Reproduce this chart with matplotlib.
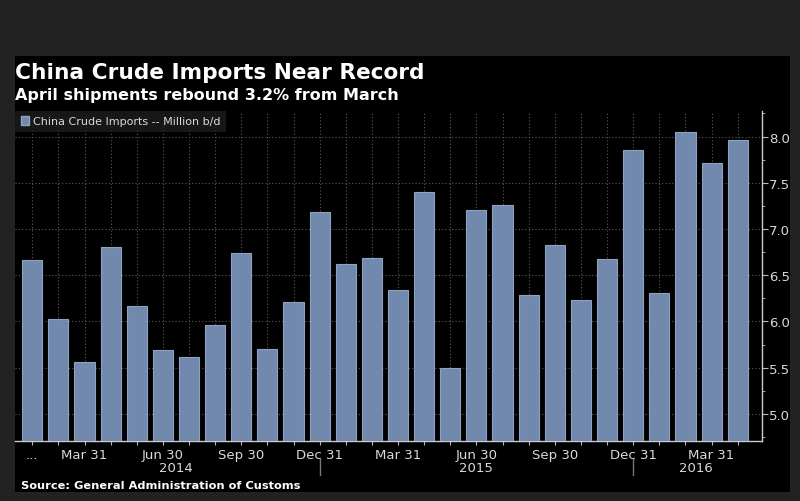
import matplotlib
matplotlib.use("Agg")
import matplotlib.pyplot as plt
import matplotlib.patches as mpatches
import matplotlib.transforms as mtransforms
from matplotlib.lines import Line2D
from matplotlib.ticker import MultipleLocator

# China crude imports, million b/d, Jan 2014 .. Apr 2016
imports = [6.66, 6.03, 5.56, 6.81, 6.17, 5.69, 5.62, 5.96, 6.74, 5.70, 6.21, 7.18,
           6.62, 6.69, 6.34, 7.40, 5.50, 7.21, 7.26, 6.29, 6.83, 6.23, 6.68, 7.85,
           6.31, 8.05, 7.71, 7.96]

# month tick labels (only quarter ends shown)
tick_labels = ["...", "", "Mar 31", "", "", "Jun 30", "", "", "Sep 30", "", "", "Dec 31",
               "", "", "Mar 31", "", "", "Jun 30", "", "", "Sep 30", "", "", "Dec 31",
               "", "", "Mar 31", ""]

years = ["2014", "2015", "2016"]
year_pos = [5.5, 17.0, 25.4]
year_breaks = [11, 23]

bar_color = "#7189ad"
edge_color = "#8ea3c4"
text_color = "#d9d9d9"

W, H = 800, 502
fig = plt.figure(figsize=(W / 100, H / 100), dpi=100, facecolor="#222222")

# black panel behind everything
bg = fig.add_axes([15 / W, 9 / H, 775 / W, 436 / H], zorder=-5)
bg.set_facecolor("black")
bg.set_xticks([])
bg.set_yticks([])
for s in bg.spines.values():
    s.set_visible(False)

ax = fig.add_axes([15 / W, 60.3 / H, 747 / W, 330 / H], zorder=1)
ax.set_facecolor("none")

x = list(range(len(imports)))
ax.bar(x, imports, width=0.77, color=bar_color, edgecolor=edge_color, linewidth=0.8,
       zorder=3)

ax.set_xlim(-0.66, 27.93)
ax.set_ylim(4.71, 8.28)

ax.yaxis.tick_right()
ax.yaxis.set_major_locator(MultipleLocator(0.5))
ax.yaxis.set_minor_locator(MultipleLocator(0.25))
ax.set_xticks(x)
ax.set_xticklabels(tick_labels)

ax.tick_params(axis="both", which="major", colors="#bbbbbb", labelcolor=text_color,
               labelsize=9.5, direction="out")
ax.tick_params(axis="x", length=3, pad=2)
ax.tick_params(axis="y", length=4, pad=1)
ax.tick_params(axis="y", which="minor", length=2.5, colors="#bbbbbb")

for side in ["left", "top"]:
    ax.spines[side].set_visible(False)
for side in ["right", "bottom"]:
    ax.spines[side].set_color("#cccccc")
    ax.spines[side].set_linewidth(1)

ax.grid(True, which="major", linestyle=(0, (1, 2)), color="#5a5a5a", linewidth=0.8)
ax.set_axisbelow(True)

# year labels and separators
trans = mtransforms.blended_transform_factory(ax.transData, ax.transAxes)
for yr, pos in zip(years, year_pos):
    ax.text(pos, -0.08, yr, transform=trans, ha="center", va="center",
            color=text_color, fontsize=9.5)
for b in year_breaks:
    ax.add_line(Line2D([b, b], [-0.055, -0.104], transform=trans, color="#777777",
                       linewidth=1, clip_on=False))

handle = mpatches.Patch(facecolor=bar_color, edgecolor=edge_color)
leg = ax.legend(handles=[handle], labels=["China Crude Imports -- Million b/d"],
                loc="upper left", bbox_to_anchor=(0, 1), borderaxespad=0,
                fontsize=8, frameon=True, fancybox=False, handlelength=0.8,
                handleheight=0.8, handletextpad=0.3, borderpad=0.5)
leg.get_frame().set_facecolor("#1c1c1c")
leg.get_frame().set_alpha(0.85)
leg.get_frame().set_edgecolor("none")
for t in leg.get_texts():
    t.set_color(text_color)

fig.text(15 / W, (H - 79) / H, "China Crude Imports Near Record", color="white",
         fontsize=15.6, fontweight="bold", va="baseline", ha="left")
fig.text(15 / W, (H - 100) / H, "April shipments rebound 3.2% from March", color="white",
         fontsize=11.5, fontweight="bold", va="baseline", ha="left")
fig.text(21 / W, (H - 486) / H, "Source: General Administration of Customs", color="white",
         fontsize=8.2, fontweight="bold", va="center", ha="left")

fig.savefig("out.png", dpi=100, facecolor=fig.get_facecolor())
